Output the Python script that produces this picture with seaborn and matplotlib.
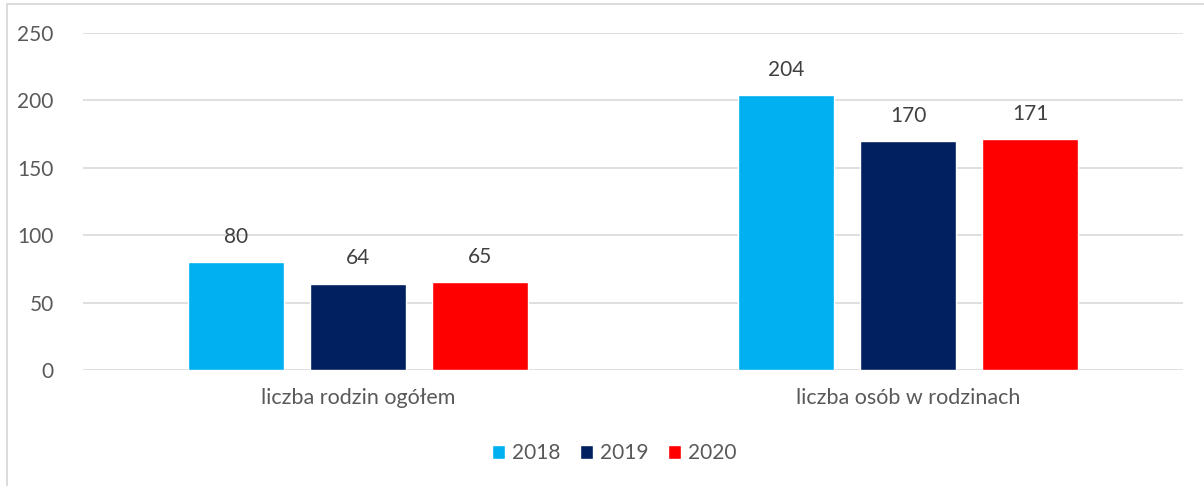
import matplotlib
matplotlib.use("Agg")
import matplotlib.pyplot as plt
from matplotlib.lines import Line2D
import seaborn as sns
import pandas as pd

categories = ["liczba rodzin ogółem", "liczba osób w rodzinach"]
years = ["2018", "2019", "2020"]
values_2018 = [80, 204]
values_2019 = [64, 170]
values_2020 = [65, 171]
colors = ["#00B0F0", "#002060", "#FF0000"]
yticks = [0, 50, 100, 150, 200, 250]

rows = []
for yr, vals in zip(years, [values_2018, values_2019, values_2020]):
    for c, v in zip(categories, vals):
        rows.append({"kategoria": c, "rok": yr, "wartosc": v})
df = pd.DataFrame(rows)

sns.set_theme(style="white")
plt.rcParams["font.family"] = ["Lato", "DejaVu Sans"]

W, H = 1204, 486
fig = plt.figure(figsize=(W / 100, H / 100), dpi=100)
ax = fig.add_axes([83 / W, (H - 370) / H, 1100 / W, 337 / H])

sns.barplot(data=df, x="kategoria", y="wartosc", hue="rok", order=categories,
            hue_order=years, palette=colors, width=0.6655, gap=0.213,
            saturation=1, ax=ax, zorder=3, legend=True)

ax.set_ylim(0, 250)
ax.set_yticks(yticks)
ax.set_xlim(-0.5, 1.5)
ax.yaxis.grid(True, color="#D9D9D9", linewidth=1.2, zorder=0)
ax.set_axisbelow(True)
for s in ax.spines.values():
    s.set_visible(False)
ax.set_xlabel("")
ax.set_ylabel("")
ax.tick_params(axis="y", labelsize=15, labelcolor="#595959", length=0, pad=21)
ax.tick_params(axis="x", labelsize=15.5, labelcolor="#595959", length=0, pad=13)

for cont in ax.containers:
    ax.bar_label(cont, labels=[f"{int(v)}" for v in cont.datavalues],
                 padding=11, fontsize=15, color="#404040")

leg = ax.legend(loc="center", bbox_to_anchor=(614 / W, (H - 453) / H),
                bbox_transform=fig.transFigure, ncol=3, frameon=False,
                fontsize=15, handlelength=0.65, handleheight=0.65,
                handletextpad=0.3, columnspacing=0.95)
for t in leg.get_texts():
    t.set_color("#595959")

# chart border (Excel-like frame)
fig.add_artist(Line2D([7 / W, 7 / W], [0, (H - 4) / H], transform=fig.transFigure,
                      color="#D9D9D9", linewidth=1.3))
fig.add_artist(Line2D([7 / W, 1], [(H - 4) / H, (H - 4) / H], transform=fig.transFigure,
                      color="#D9D9D9", linewidth=1.3))

fig.savefig("out.png", dpi=100, facecolor="white")
